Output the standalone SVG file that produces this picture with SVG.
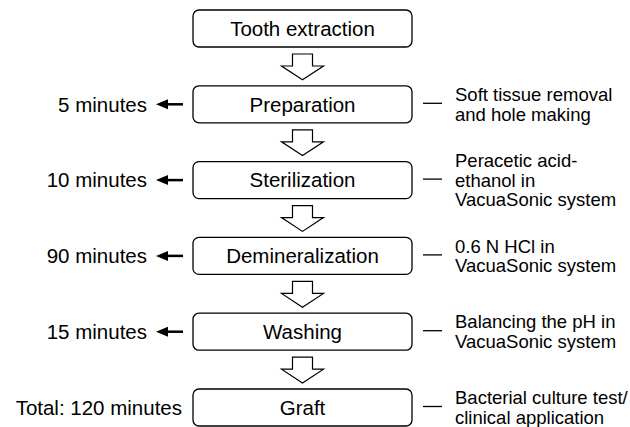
<svg xmlns="http://www.w3.org/2000/svg" width="630" height="427" viewBox="0 0 630 427">
<style>
.box{fill:#fff;stroke:#000;stroke-width:1.3}
.nt{font-family:"Liberation Sans",Arial,sans-serif;font-size:20.5px;text-anchor:middle;fill:#000}
.lt{font-family:"Liberation Sans",Arial,sans-serif;font-size:20.5px;text-anchor:end;fill:#000}
.st{font-family:"Liberation Sans",Arial,sans-serif;font-size:18.5px;fill:#000}
.ha{fill:#fff;stroke:#000;stroke-width:1.2;stroke-linejoin:miter}
.dash{stroke:#000;stroke-width:1.3}
.la{stroke:#000;stroke-width:2.5}
</style>
<rect width="630" height="427" fill="#fff"/>
<g id="node-tooth"><rect class="box" x="193" y="10" width="219" height="37" rx="6"/><text class="nt" x="302.5" y="35.8">Tooth extraction</text></g>
<g id="node-prep"><rect class="box" x="193" y="85.8" width="219" height="37" rx="6"/><text class="nt" x="302.5" y="111.6">Preparation</text></g>
<g id="node-steril"><rect class="box" x="193" y="161.6" width="219" height="37" rx="6"/><text class="nt" x="302.5" y="187.4">Sterilization</text></g>
<g id="node-demin"><rect class="box" x="193" y="237.4" width="219" height="37" rx="6"/><text class="nt" x="302.5" y="263.2">Demineralization</text></g>
<g id="node-wash"><rect class="box" x="193" y="313.2" width="219" height="37" rx="6"/><text class="nt" x="302.5" y="339">Washing</text></g>
<g id="node-graft"><rect class="box" x="193" y="389" width="219" height="37" rx="6"/><text class="nt" x="302.5" y="414.8">Graft</text></g>
<g id="connectors">
<polygon class="ha" points="292.5,54 312.5,54 312.5,66 323.5,66 302.5,79.8 281.5,66 292.5,66"/>
<polygon class="ha" points="292.5,129.8 312.5,129.8 312.5,141.8 323.5,141.8 302.5,155.6 281.5,141.8 292.5,141.8"/>
<polygon class="ha" points="292.5,205.6 312.5,205.6 312.5,217.6 323.5,217.6 302.5,231.4 281.5,217.6 292.5,217.6"/>
<polygon class="ha" points="292.5,281.4 312.5,281.4 312.5,293.4 323.5,293.4 302.5,307.2 281.5,293.4 292.5,293.4"/>
<polygon class="ha" points="292.5,357.2 312.5,357.2 312.5,369.2 323.5,369.2 302.5,383 281.5,369.2 292.5,369.2"/>
<line class="la" x1="166" y1="104.3" x2="183" y2="104.3"/><polygon points="156,104.3 168,99.3 168,109.3"/>
<line class="la" x1="166" y1="180.1" x2="183" y2="180.1"/><polygon points="156,180.1 168,175.1 168,185.1"/>
<line class="la" x1="166" y1="255.9" x2="183" y2="255.9"/><polygon points="156,255.9 168,250.9 168,260.9"/>
<line class="la" x1="166" y1="331.7" x2="183" y2="331.7"/><polygon points="156,331.7 168,326.7 168,336.7"/>
<line class="dash" x1="423" y1="103.3" x2="442" y2="103.3"/>
<line class="dash" x1="423" y1="179.1" x2="442" y2="179.1"/>
<line class="dash" x1="423" y1="254.9" x2="442" y2="254.9"/>
<line class="dash" x1="423" y1="330.7" x2="442" y2="330.7"/>
<line class="dash" x1="423" y1="406.5" x2="442" y2="406.5"/>
</g>
<g id="labels">
<text class="lt" x="147" y="111.6">5 minutes</text>
<text class="lt" x="147" y="187.4">10 minutes</text>
<text class="lt" x="147" y="263.2">90 minutes</text>
<text class="lt" x="147" y="339">15 minutes</text>
<text class="lt" x="182" y="414.8">Total: 120 minutes</text>
<text class="st" x="455"><tspan x="455" y="101">Soft tissue removal</tspan><tspan x="455" y="120.5">and hole making</tspan></text>
<text class="st" x="455"><tspan x="455" y="167">Peracetic acid-</tspan><tspan x="455" y="186.5">ethanol in</tspan><tspan x="455" y="206">VacuaSonic system</tspan></text>
<text class="st" x="455"><tspan x="455" y="252.5">0.6 N HCl in</tspan><tspan x="455" y="272">VacuaSonic system</tspan></text>
<text class="st" x="455"><tspan x="455" y="328.3">Balancing the pH in</tspan><tspan x="455" y="347.8">VacuaSonic system</tspan></text>
<text class="st" x="455"><tspan x="455" y="404">Bacterial culture test/</tspan><tspan x="455" y="423.5">clinical application</tspan></text>
</g>
</svg>
